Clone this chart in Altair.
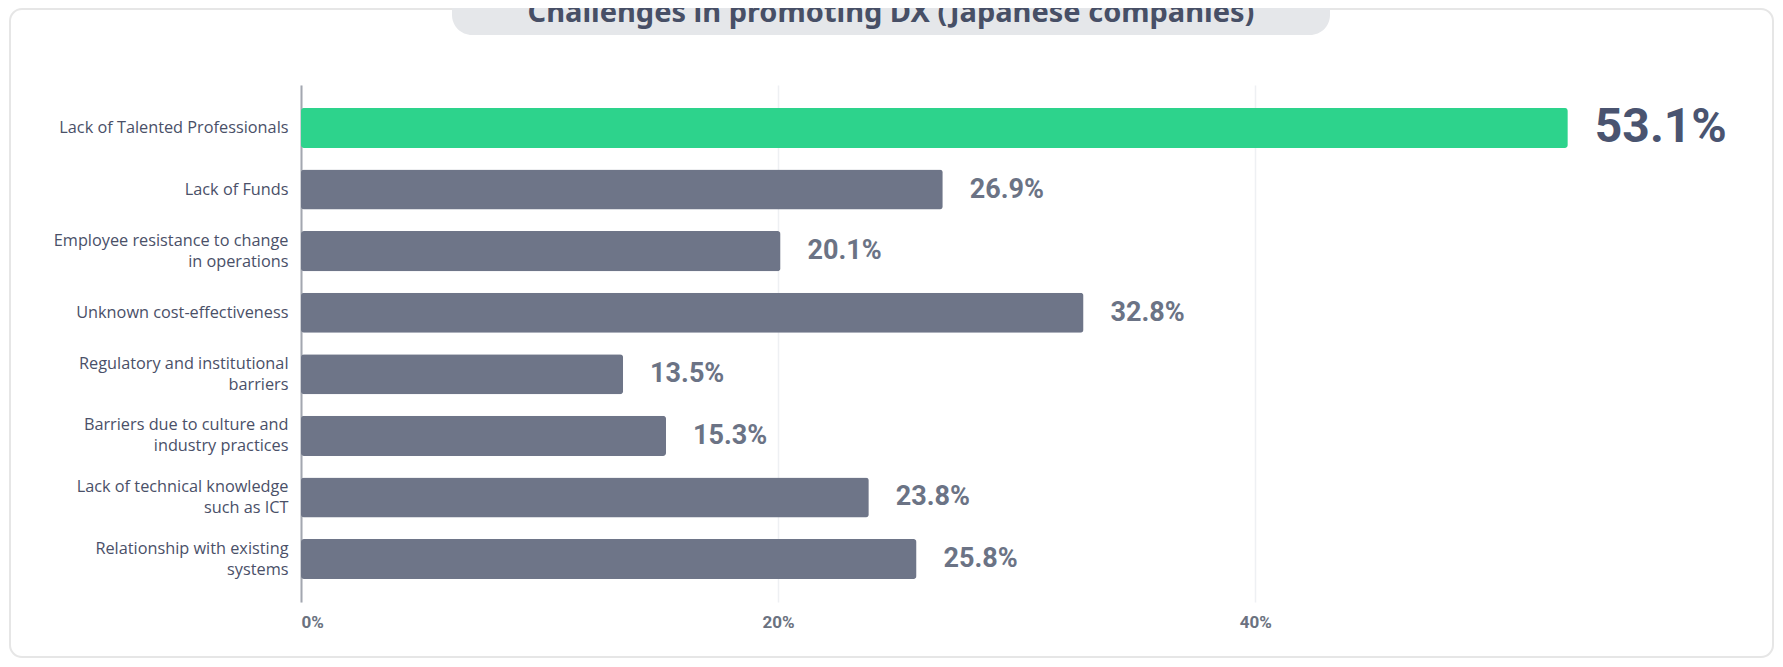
import altair as alt
import pandas as pd

TITLE = "Challenges in promoting DX (Japanese companies)"
categories = [
    "Lack of Talented Professionals",
    "Lack of Funds",
    "Employee resistance to change|in operations",
    "Unknown cost-effectiveness",
    "Regulatory and institutional|barriers",
    "Barriers due to culture and|industry practices",
    "Lack of technical knowledge|such as ICT",
    "Relationship with existing|systems",
]
values = [53.1, 26.9, 20.1, 32.8, 13.5, 15.3, 23.8, 25.8]
tick_values = [0, 20, 40]

df = pd.DataFrame({"category": categories, "value": values})
df["top"] = df["value"] == df["value"].max()
df["label"] = df["value"].map(lambda v: f"{v:.1f}%")

W, H = 1336, 517
PAD = {"left": 293, "top": 77, "right": 138, "bottom": 57}

one = pd.DataFrame({"a": [0]})

card = alt.Chart(one).mark_rect(
    fill=None, stroke="#e6e6e6", strokeWidth=2, cornerRadius=12
).encode(
    x=alt.value(-291), x2=alt.value(1472), y=alt.value(-76), y2=alt.value(572)
)

pill = alt.Chart(one).mark_rect(fill="#e5e7ea", cornerRadius=20).encode(
    x=alt.value(151), x2=alt.value(1029), y=alt.value(-110), y2=alt.value(-50)
)

title = alt.Chart(one).mark_text(
    text=TITLE, font="Noto Sans", fontWeight="bold", fontSize=29,
    color="#474f66", align="center", baseline="alphabetic"
).encode(x=alt.value(590), y=alt.value(-63))

yenc = alt.Y(
    "category:N", sort=None,
    scale=alt.Scale(paddingInner=0.35, paddingOuter=0.373),
    axis=alt.Axis(
        title=None, labelExpr="split(datum.label, '|')", labelLineHeight=21,
        labelFont="Open Sans", labelFontSize=16.3, labelColor="#4a5068",
        labelPadding=13, labelLimit=400, ticks=False, domain=True,
        domainColor="#a3a7b0", domainWidth=2, grid=False,
        labelOffset=alt.condition("indexof(datum.value, '|') >= 0",
                                  alt.value(-10.5), alt.value(0)),
    ),
)
xenc = alt.X(
    "value:Q",
    scale=alt.Scale(domain=[0, 56], nice=False),
    axis=alt.Axis(
        title=None, values=tick_values, labelExpr="datum.value + '%'",
        labelFont="Roboto", labelFontWeight="bold", labelFontSize=17,
        labelColor="#6b7280", labelPadding=12, ticks=False, domain=False,
        grid=True, gridColor="#eef0f3", gridWidth=1.5,
    ),
)

bars = alt.Chart(df).mark_bar(cornerRadius=3).encode(
    x=xenc, y=yenc,
    color=alt.condition("datum.top", alt.value("#2dd38c"), alt.value("#6e7588")),
)

labels = alt.Chart(df).mark_text(
    align="left", baseline="middle", dx=27, font="Roboto", fontWeight="bold"
).encode(
    x="value:Q", y=alt.Y("category:N", sort=None),
    text="label:N",
    size=alt.condition("datum.top", alt.value(48), alt.value(27)),
    color=alt.condition("datum.top", alt.value("#4a5470"), alt.value("#6b7385")),
)

chart = alt.layer(card, pill, title, bars, labels).properties(
    width=W, height=H,
    autosize=alt.AutoSizeParams(type="none"),
    padding=PAD,
    background="white",
).configure_view(strokeWidth=0, strokeOpacity=0)

chart.save("out.html", embed_options={"renderer": "svg", "actions": False})
